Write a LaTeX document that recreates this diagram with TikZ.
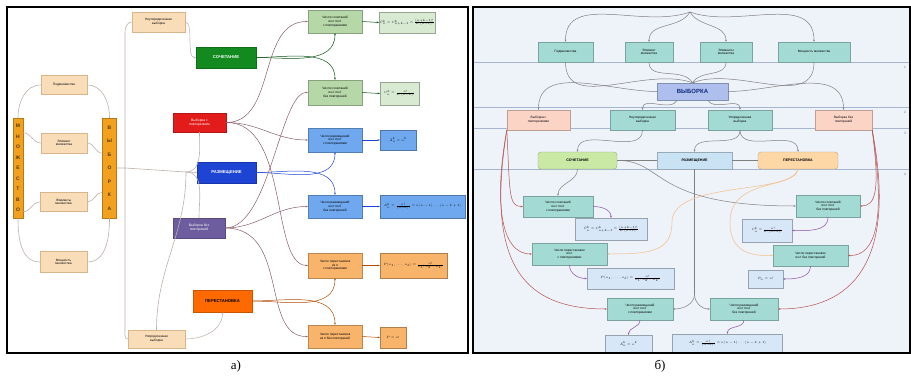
\documentclass[tikz,border=0pt]{standalone}
\usepackage{amsmath}
\usepackage{graphicx}
\usepackage{fontspec}
\setmainfont{Liberation Sans}
\newfontfamily\capfont{Liberation Serif}
\usetikzlibrary{arrows.meta}
\usetikzlibrary{positioning}

\definecolor{beige}{HTML}{F9DDB9}
\definecolor{beigeline}{HTML}{D9B58C}
\definecolor{barorange}{HTML}{F2A11F}
\definecolor{sochgreen}{HTML}{138A1F}
\definecolor{vpovred}{HTML}{E21B1B}
\definecolor{razmblue}{HTML}{1E44D4}
\definecolor{vbezpurple}{HTML}{6E5D9E}
\definecolor{pereorange}{HTML}{FF6A00}
\definecolor{lgreen}{HTML}{B6D7A8}
\definecolor{llgreen}{HTML}{D9EAD3}
\definecolor{lblue}{HTML}{6FA8EE}
\definecolor{lorange}{HTML}{F9B46C}
\definecolor{conngray}{HTML}{BDB0A8}
\definecolor{connbrown}{HTML}{8A5C66}
\definecolor{panelbg}{HTML}{EEF2F9}
\definecolor{tealbox}{HTML}{A3DAD4}
\definecolor{pinkbox}{HTML}{FBD4C6}
\definecolor{fbox}{HTML}{D7E7F8}
\definecolor{levline}{HTML}{A7B6D0}
\definecolor{rline}{HTML}{B5524F}
\definecolor{pline}{HTML}{8A4FA8}
\definecolor{oline}{HTML}{F3BE88}
\definecolor{sgreen}{HTML}{C9E9A4}
\definecolor{sblue}{HTML}{C9E3F4}
\definecolor{sorange}{HTML}{FDD8A6}
\definecolor{vybblue}{HTML}{AEBFEE}

\newcommand{\fm}[1]{\scalebox{0.62}{$#1$}}

\tikzset{
  sz/.style 2 args={minimum width=#1pt, minimum height=#2pt},
  tx/.style={font=\fontsize{3.2}{3.7}\selectfont, align=center, inner sep=0.5pt},
  abox/.style={tx, draw=beigeline, fill=beige, line width=0.4pt},
  bar/.style={draw=barorange!75!black, fill=barorange, inner sep=0pt, align=center,
    text=barorange!35!black, font=\fontsize{5}{#1}\selectfont\bfseries},
  mainbox/.style={tx, fill=#1, draw=#1!80!black, text=white, font=\fontsize{4.2}{5}\selectfont\bfseries},
  lvl/.style={tx, fill=#1, draw=#1!75!black, line width=0.4pt},
  fml/.style={tx, fill=#1, draw=#1!70!black, line width=0.4pt},
  lline/.style={draw=conngray, line width=0.6pt},
  cline/.style={draw=#1, line width=0.5pt, -{Stealth[length=2.2pt,width=1.8pt]}},
  levelline/.style={draw=levline, line width=0.5pt},
}

\begin{document}
\begin{tikzpicture}[x=1pt,y=-1pt]
\useasboundingbox (0,0) rectangle (911,380);

% panel a
\draw[line width=1.6pt] (7,7) rectangle (468,353);
\node[bar=10.5, sz={10}{100}] (barL) at (18,168) {М\\Н\\О\\Ж\\Е\\С\\Т\\В\\О};
\node[bar=13.5, sz={14}{100}] (barR) at (109.5,168) {В\\Ы\\Б\\О\\Р\\К\\А};
\node[abox, sz={46}{19}] (pod) at (64,85) {Подмножества};
\node[abox, sz={46}{20}] (elemA) at (64,143) {Элемент\\множества};
\node[abox, sz={47}{19}] (elemB) at (63.5,202) {Элементы\\множества};
\node[abox, sz={47}{21}] (mosh) at (63.5,262) {Мощность\\множества};
\node[abox, sz={53}{20}] (neup) at (158.5,22) {Неупорядоченная\\выборка};
\node[abox, sz={57}{18}] (upor) at (156.5,339) {Упорядоченная\\выборка};

\node[mainbox=sochgreen, sz={60}{21}] (soch) at (226,57.5) {СОЧЕТАНИЕ};
\node[mainbox=vpovred, sz={53}{19}, font=\fontsize{3.4}{4}\selectfont] (vpov) at (199.5,122.5) {Выборка с\\повторением};
\node[mainbox=razmblue, sz={59}{21}] (razm) at (226.5,172.5) {РАЗМЕЩЕНИЕ};
\node[mainbox=vbezpurple, sz={52}{20}, font=\fontsize{3.4}{4}\selectfont] (vbez) at (199,228) {Выборка без\\повторений};
\node[mainbox=pereorange, sz={59}{22}, text=black] (pere) at (222.5,301) {ПЕРЕСТАНОВКА};

\node[lvl=lgreen, sz={54}{23}] (gA) at (335,21.5) {Число сочетаний\\из \textit{n} по \textit{k}\\с повторениями};
\node[fml=llgreen, sz={56}{21}] (fgA) at (407,22.5) {\fm{\bar C_n^k=C_{n+k-1}^k=\frac{(n+k-1)!}{k!\,(n-1)!}}};
\node[lvl=lgreen, sz={54}{25}] (gB) at (335,92.5) {Число сочетаний\\из \textit{n} по \textit{k}\\без повторений};
\node[fml=llgreen, sz={39}{23}] (fgB) at (399.5,93.5) {\fm{C_n^k=\frac{n!}{k!\,(n-k)!}}};
\node[lvl=lblue, sz={54}{24}] (bA) at (335,140) {Число размещений\\из \textit{n} по \textit{k}\\с повторениями};
\node[fml=lblue, sz={36}{20}] (fbA) at (398,140) {\fm{\bar A_n^k=n^k}};
\node[lvl=lblue, sz={54}{23}] (bB) at (335,206.5) {Число размещений\\из \textit{n} по \textit{k}\\без повторений};
\node[fml=lblue, sz={85}{23}] (fbB) at (422.5,206.5) {\fm{A_n^k=\frac{n!}{(n-k)!}=n(n-1)\ldots(n-k+1)}};
\node[lvl=lorange, sz={54}{25}] (oA) at (335,265.5) {Число перестановок\\из \textit{n}\\с повторениями};
\node[fml=lorange, sz={67}{25}] (foA) at (413.5,265.5) {\fm{P(n_1,\ldots,n_k)=\frac{n!}{n_1!\,n_2!\ldots n_k!}}};
\node[lvl=lorange, sz={54}{23}] (oB) at (335,336.5) {Число перестановок\\из \textit{n} без повторений};
\node[fml=lorange, sz={26}{21}] (foB) at (393,337.5) {\fm{P=n!}};

\coordinate (trunk) at (125,168);
\coordinate (hub) at (186,172);
\draw[lline] (barL.north) to[out=90,in=180] (pod.west);
\draw[lline] (pod.east) to[out=0,in=90] (barR.north);
\draw[lline] (barL.south) to[out=-90,in=180] (mosh.west);
\draw[lline] (mosh.east) to[out=0,in=-90] (barR.south);
\draw[lline] (barL.east |- elemA.north) to[out=0,in=180] (elemA.west);
\draw[lline] (elemA.east) to[out=0,in=180] (barR.west |- elemA.south);
\draw[lline] (barL.east |- elemB.south) to[out=0,in=180] (elemB.west);
\draw[lline] (elemB.east) to[out=0,in=180] (barR.west |- elemB.north);
\draw[lline] (barR.east) -- (trunk) -- (trunk |- neup.south) to[out=90,in=180] (neup.west);
\draw[lline] (trunk) -- (trunk |- upor.north) to[out=-90,in=180] (upor.west);
\draw[lline] (trunk) -- (hub);
\draw[cline=conngray] (hub) -- (razm.west);
\draw[lline] (hub) to[out=0,in=-90] (vpov.south);
\draw[lline] (hub) to[out=0,in=90] (vbez.north);
\draw[lline] (upor.north) to[out=90,in=-90] (hub);
\draw[cline=conngray] (neup.east) .. controls (194,22) and (186,58) .. (soch.west);
\draw[cline=conngray] (upor.east) to[out=0,in=-90] (pere.south);

\draw[cline=sochgreen!60!black] (soch.east) to[out=0,in=-90] (gA.south);
\draw[cline=sochgreen!60!black] (soch.east) to[out=0,in=90] (gB.north);
\draw[cline=razmblue] (razm.east) to[out=0,in=-90] (bA.south);
\draw[cline=razmblue] (razm.east) to[out=0,in=90] (bB.north);
\draw[cline=pereorange!70!black] (pere.east) to[out=0,in=-90] (oA.south);
\draw[cline=pereorange!70!black] (pere.east) to[out=0,in=90] (oB.north);
\draw[cline=connbrown] (vpov.east) to[out=0,in=180] (gA.west);
\draw[cline=connbrown] (vpov.east) to[out=0,in=180] (bA.west);
\draw[cline=connbrown] (vpov.east) .. controls (290,122) and (270,265) .. (oA.west);
\draw[cline=connbrown] (vbez.east) .. controls (270,228) and (280,92) .. (gB.west);
\draw[cline=connbrown] (vbez.east) to[out=0,in=180] (bB.west);
\draw[cline=connbrown] (vbez.east) .. controls (290,228) and (260,337) .. (oB.west);
\draw[cline=sochgreen!60!black] (gA.east) -- (fgA.west);
\draw[cline=sochgreen!60!black] (gB.east) -- (fgB.west);
\draw[cline=razmblue] (bA.east) -- (fbA.west);
\draw[cline=razmblue] (bB.east) -- (fbB.west);
\draw[cline=pereorange!70!black] (oA.east) -- (foA.west);
\draw[cline=pereorange!70!black] (oB.east) -- (foB.west);

% panel b
\fill[panelbg] (473,7) rectangle (910,353);
\foreach \ly/\ln in {62/1,107/2,128/3,169/4}{
  \draw[levelline] (474,\ly) -- (909,\ly);
  \node[tx, text=levline!60!black] (lev\ln) at (905,\ly+5) {\ln};
}
\node[lvl=tealbox, sz={55}{20}] (tA) at (565.5,52) {Подмножества};
\node[lvl=tealbox, sz={48}{20}] (tB) at (649,52) {Элемент\\множества};
\node[lvl=tealbox, sz={52}{20}] (tC) at (726,52) {Элементы\\множества};
\node[lvl=tealbox, sz={72}{20}] (tD) at (814,52) {Мощность множества};
\coordinate (apex) at (690,12);
\node[lvl=vybblue, sz={71}{17}, font=\fontsize{6}{7}\selectfont\bfseries, text=razmblue!60!black] (vyb) at (692.5,91.5) {ВЫБОРКА};
\node[lvl=pinkbox, sz={63}{20}] (rA) at (538.5,120) {Выборка с\\повторениями};
\node[lvl=tealbox, sz={65}{20}] (rB) at (642.5,120) {Неупорядоченная\\выборка};
\node[lvl=tealbox, sz={64}{20}] (rC) at (740,120) {Упорядоченная\\выборка};
\node[lvl=pinkbox, sz={57}{20}] (rD) at (843.5,120) {Выборка без\\повторений};
\node[lvl=sgreen, sz={79}{17}, rounded corners=3pt, font=\fontsize{3.6}{4}\selectfont\bfseries] (sA) at (577.5,160.5) {СОЧЕТАНИЕ};
\node[lvl=sblue, sz={75}{17}, font=\fontsize{3.6}{4}\selectfont\bfseries] (sB) at (694.5,160.5) {РАЗМЕЩЕНИЕ};
\node[lvl=sorange, sz={80}{17}, rounded corners=3pt, font=\fontsize{3.6}{4}\selectfont\bfseries] (sC) at (798,160.5) {ПЕРЕСТАНОВКА};

\node[lvl=tealbox, sz={70}{21}] (cA) at (558,206.5) {Число сочетаний\\из \textit{n} по \textit{k}\\с повторениями};
\node[fml=fbox, sz={72}{22}] (fcA) at (611,229) {\fm{\bar C_n^k=C_{n+k-1}^k=\frac{(n+k-1)!}{k!\,(n-1)!}}};
\node[lvl=tealbox, sz={75}{22}] (pA) at (569.5,254) {Число перестановок\\из \textit{n}\\с повторениями};
\node[fml=fbox, sz={87}{21}] (fpA) at (630.5,278.5) {\fm{P(n_1,\ldots,n_k)=\frac{n!}{n_1!\,n_2!\ldots n_k!}}};
\node[lvl=tealbox, sz={66}{22}] (aA) at (640,309) {Число размещений\\из \textit{n} по \textit{k}\\с повторениями};
\node[fml=fbox, sz={47}{18}] (faA) at (628.5,344) {\fm{\bar A_n^k=n^k}};
\node[lvl=tealbox, sz={64}{22}] (cB) at (828,206) {Число сочетаний\\из \textit{n} по \textit{k}\\без повторений};
\node[fml=fbox, sz={50}{23}] (fcB) at (767,230.5) {\fm{C_n^k=\frac{n!}{k!\,(n-k)!}}};
\node[lvl=tealbox, sz={75}{21}] (pB) at (810.5,255.5) {Число перестановок\\из \textit{n} без повторений};
\node[fml=fbox, sz={35}{18}] (fpB) at (765.5,279) {\fm{P_n=n!}};
\node[lvl=tealbox, sz={68}{22}] (aB) at (744,309) {Число размещений\\из \textit{n} по \textit{k}\\без повторений};
\node[fml=fbox, sz={110}{19}] (faB) at (727.5,343.5) {\fm{A_n^k=\frac{n!}{(n-k)!}=n(n-1)\ldots(n-k+1)}};

\draw[cline=gray] (apex) to[out=-160,in=90] (tA.north);
\draw[cline=gray] (apex) to[out=-120,in=90] (tB.north);
\draw[cline=gray] (apex) to[out=-60,in=90] (tC.north);
\draw[cline=gray] (apex) to[out=-20,in=90] (tD.north);
\draw[draw=gray, line width=0.5pt] (tA.south) to[out=-90,in=160] (vyb.north);
\draw[draw=gray, line width=0.5pt] (tB.south) to[out=-90,in=120] (vyb.north);
\draw[draw=gray, line width=0.5pt] (tC.south) to[out=-90,in=60] (vyb.north);
\draw[cline=gray] (tD.south) to[out=-90,in=20] (vyb.north);
\draw[cline=gray] (vyb.west) to[out=180,in=90] (rA.north);
\draw[cline=gray] (vyb.-150) to[out=-120,in=90] (rB.north);
\draw[cline=gray] (vyb.-30) to[out=-60,in=90] (rC.north);
\draw[cline=gray] (vyb.east) to[out=0,in=90] (rD.north);
\draw[cline=gray] (rB.south) to[out=-90,in=90] (sA.north);
\draw[cline=gray] (rC.south) to[out=-90,in=90] (sB.north);
\draw[cline=gray] (rC.south) to[out=-90,in=90] (sC.north);
\draw[draw=gray, line width=0.5pt] (sA.east) -- (sB.west);
\draw[draw=gray, line width=0.5pt] (sB.east) -- (sC.west);
\draw[cline=gray] (sA.south) to[out=-90,in=90] (cA.north);
\draw[cline=gray] (sA.east) .. controls (665,160) and (650,206) .. (cB.west);
\coordinate (rdown) at (694.5,294);
\draw[draw=gray, line width=0.5pt] (sB.south) -- (rdown);
\draw[cline=gray] (rdown) to[out=-90,in=0] (aA.east);
\draw[cline=gray] (rdown) to[out=-90,in=180] (aB.west);
\draw[cline=oline] (sC.south) .. controls (795,195) and (672,180) .. (672,222) .. controls (672,252) and (650,254) .. (pA.east);
\draw[cline=oline] (sC.south) .. controls (792,190) and (730,178) .. (730,222) .. controls (730,252) and (750,256) .. (pB.west);
\draw[cline=rline] (rA.south west) .. controls (510,190) and (508,207) .. (cA.west);
\draw[cline=rline] (rA.south west) .. controls (494,200) and (500,254) .. (pA.west);
\draw[cline=rline] (rA.south west) .. controls (486,260) and (520,309) .. (aA.west);
\draw[cline=rline] (rD.south east) .. controls (880,190) and (876,206) .. (cB.east);
\draw[cline=rline] (rD.south east) .. controls (886,220) and (876,256) .. (pB.east);
\draw[cline=rline] (rD.south east) .. controls (898,265) and (850,309) .. (aB.east);
\draw[cline=pline] (cA.east) to[out=0,in=90] (fcA.north);
\draw[cline=pline] (pA.south) to[out=-90,in=180] (fpA.west);
\draw[cline=pline] (aA.south) to[out=-90,in=90] (faA.north);
\draw[cline=pline] (cB.south) to[out=-90,in=0] (fcB.east);
\draw[cline=pline] (pB.south) to[out=-90,in=0] (fpB.east);
\draw[cline=pline] (aB.south) to[out=-90,in=90] (faB.north);
\draw[line width=1.6pt] (473,7) rectangle (910,353);

\node[font=\capfont\fontsize{13}{14}\selectfont] (capA) at (236,366) {а)};
\node[font=\capfont\fontsize{13}{14}\selectfont] (capB) at (660,366) {б)};
\end{tikzpicture}
\end{document}
